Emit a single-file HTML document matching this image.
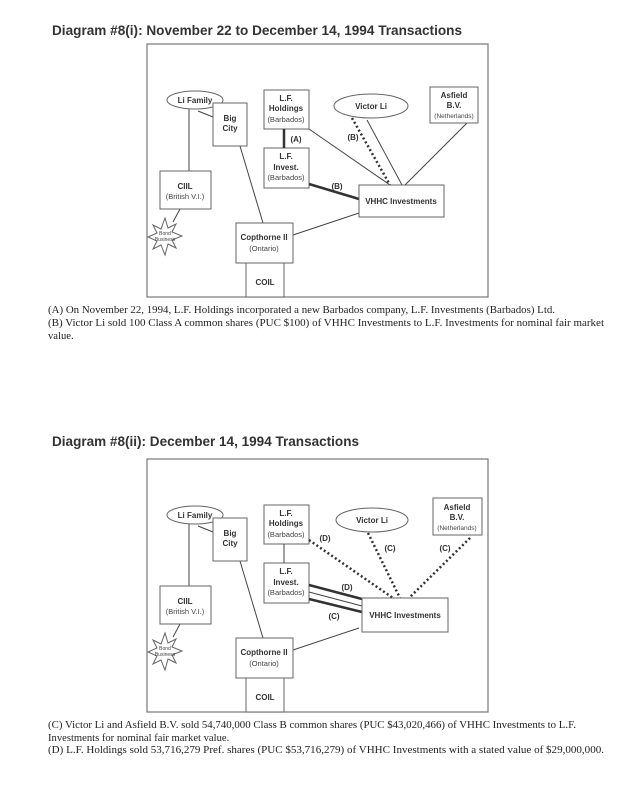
<!DOCTYPE html>
<html><head><meta charset="utf-8"><style>
html,body{margin:0;padding:0;background:#fff;}
svg{display:block;}
.t{font-family:"Liberation Sans",Arial,sans-serif;font-weight:bold;font-size:14px;fill:#333;}
.c{font-family:"Liberation Serif",serif;font-size:10.6px;fill:#222;}
.b{font-family:"Liberation Sans",Arial,sans-serif;font-weight:bold;font-size:8px;fill:#333;text-anchor:middle;}
.n{font-family:"Liberation Sans",Arial,sans-serif;font-size:7.5px;fill:#444;text-anchor:middle;}
.s{font-family:"Liberation Sans",Arial,sans-serif;font-size:5px;fill:#444;text-anchor:middle;}
.box{fill:#fff;stroke:#666;stroke-width:1;}
.ln{stroke:#444;stroke-width:1;fill:none;}
.th{stroke:#333;stroke-width:2.5;fill:none;}
.dt{stroke:#333;stroke-width:2.5;stroke-dasharray:2 2.5;fill:none;}
</style></head><body>
<svg width="624" height="809" viewBox="0 0 624 809" xmlns="http://www.w3.org/2000/svg">
<defs>
<g id="base">
  <rect x="147" y="44" width="341" height="253" fill="#fff" stroke="#777" stroke-width="1.2"/>
  <line class="ln" x1="189" y1="108" x2="189" y2="171"/>
  <line class="ln" x1="198" y1="111" x2="213" y2="117"/>
  <line class="ln" x1="240" y1="146" x2="263" y2="223"/>
  <line class="ln" x1="180" y1="209" x2="173" y2="222"/>
  <line class="ln" x1="359" y1="213" x2="293" y2="235"/>
  <ellipse class="box" cx="195" cy="100" rx="28" ry="9"/>
  <text class="b" x="195" y="103">Li Family</text>
  <rect class="box" x="213" y="103" width="34" height="43"/>
  <text class="b" x="230" y="121">Big</text><text class="b" x="230" y="131">City</text>
  <rect class="box" x="264" y="90" width="45" height="39"/>
  <text class="b" x="286" y="101">L.F.</text><text class="b" x="286" y="111">Holdings</text><text class="n" x="286" y="122">(Barbados)</text>
  <rect class="box" x="264" y="148" width="45" height="40"/>
  <text class="b" x="286" y="159">L.F.</text><text class="b" x="286" y="170">Invest.</text><text class="n" x="286" y="180">(Barbados)</text>
  <rect class="box" x="160" y="171" width="51" height="38"/>
  <text class="b" x="185" y="189">CIIL</text><text class="n" x="185" y="199">(British V.I.)</text>
  <polygon class="box" points="165,218 168,228 176,224 172,232 182,236 172,240 176,248 168,244 165,255 161,245 153,249 157,241 148,237 157,233 153,225 161,229"/>
  <text class="s" x="165" y="235">Bond</text><text class="s" x="165" y="241">Business</text>
  <rect class="box" x="236" y="223" width="57" height="40"/>
  <text class="b" x="264" y="240">Copthorne II</text><text class="n" x="264" y="251">(Ontario)</text>
  <rect class="box" x="246" y="263" width="38" height="34"/>
  <text class="b" x="265" y="285">COIL</text>
</g>
</defs>

<text class="t" x="52" y="35" textLength="410" lengthAdjust="spacingAndGlyphs">Diagram #8(i): November 22 to December 14, 1994 Transactions</text>
<use href="#base"/>
<line class="th" x1="284" y1="129" x2="284" y2="148"/>
<text class="b" x="296" y="142">(A)</text>
<line class="ln" x1="309" y1="129" x2="390" y2="185"/>
<line class="dt" x1="352" y1="118" x2="390" y2="185"/>
<text class="b" x="353" y="140">(B)</text>
<line class="ln" x1="367" y1="120" x2="402" y2="185"/>
<line class="ln" x1="467" y1="123" x2="405" y2="185"/>
<line class="th" x1="309" y1="184" x2="359" y2="199"/>
<text class="b" x="337" y="189">(B)</text>
<ellipse class="box" cx="371" cy="106" rx="37" ry="12"/>
<text class="b" x="371" y="109">Victor Li</text>
<rect class="box" x="430" y="87" width="48" height="36"/>
<text class="b" x="454" y="98">Asfield</text><text class="b" x="454" y="108">B.V.</text><text class="s" style="font-size:6.5px" x="454" y="118">(Netherlands)</text>
<rect class="box" x="359" y="185" width="85" height="32"/>
<text class="b" x="401" y="204">VHHC Investments</text>

<text class="c" x="48" y="313" textLength="507" lengthAdjust="spacingAndGlyphs">(A) On November 22, 1994, L.F. Holdings incorporated a new Barbados company, L.F. Investments (Barbados) Ltd.</text>
<text class="c" x="48" y="326" textLength="556" lengthAdjust="spacingAndGlyphs">(B) Victor Li sold 100 Class A common shares (PUC  $100) of VHHC Investments to L.F. Investments for nominal fair market</text>
<text class="c" x="48" y="339">value.</text>

<text class="t" x="52" y="446" textLength="307" lengthAdjust="spacingAndGlyphs">Diagram #8(ii): December 14, 1994 Transactions</text>
<g transform="translate(0,415)">
<use href="#base"/>
<line class="ln" x1="284" y1="129" x2="284" y2="148"/>
<line class="dt" x1="309" y1="125" x2="393" y2="183"/>
<text class="b" x="325" y="126">(D)</text>
<line class="dt" x1="368" y1="118" x2="400" y2="183"/>
<text class="b" x="390" y="136">(C)</text>
<line class="dt" x1="470" y1="123" x2="409" y2="183"/>
<text class="b" x="445" y="136">(C)</text>
<line class="th" x1="309" y1="170" x2="362" y2="184"/>
<line class="ln" x1="309" y1="177" x2="362" y2="191"/>
<line class="th" x1="309" y1="184" x2="362" y2="197"/>
<text class="b" x="347" y="175">(D)</text>
<text class="b" x="334" y="204">(C)</text>
<ellipse class="box" cx="372" cy="105" rx="36" ry="12"/>
<text class="b" x="372" y="108">Victor Li</text>
<rect class="box" x="433" y="83" width="49" height="37"/>
<text class="b" x="457" y="95">Asfield</text><text class="b" x="457" y="105">B.V.</text><text class="s" style="font-size:6.5px" x="457" y="115">(Netherlands)</text>
<rect class="box" x="362" y="183" width="86" height="34"/>
<text class="b" x="405" y="203">VHHC Investments</text>
</g>

<text class="c" x="48" y="728" textLength="528" lengthAdjust="spacingAndGlyphs">(C) Victor Li and Asfield B.V. sold 54,740,000 Class B common shares (PUC  $43,020,466) of VHHC Investments to L.F.</text>
<text class="c" x="48" y="741">Investments for nominal fair market value.</text>
<text class="c" x="48" y="753" textLength="556" lengthAdjust="spacingAndGlyphs">(D) L.F. Holdings sold 53,716,279 Pref. shares (PUC $53,716,279) of VHHC Investments with a stated value of $29,000,000.</text>
</svg>
</body></html>
